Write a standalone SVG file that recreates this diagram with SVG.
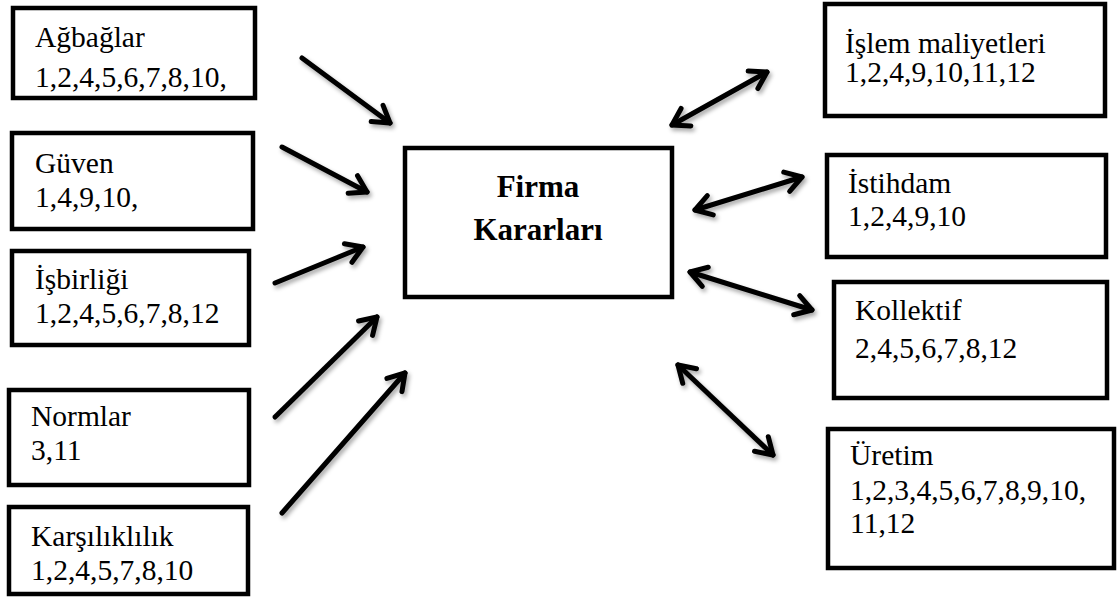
<svg xmlns="http://www.w3.org/2000/svg" width="1120" height="599" viewBox="0 0 1120 599">
<style>
.box{fill:#fff;stroke:#000;stroke-width:4.5}
.t{font-family:'Liberation Serif','Times New Roman',serif;font-size:29.5px;fill:#000}
.tb{font-family:'Liberation Serif','Times New Roman',serif;font-size:31px;font-weight:bold;fill:#000}
.c{fill:none;stroke:#000;stroke-width:5;stroke-linecap:round}
</style>
<defs>
<marker id="ah" markerUnits="userSpaceOnUse" viewBox="0 0 22 26" refX="19" refY="13" markerWidth="22" markerHeight="26" orient="auto-start-reverse">
<path d="M3,3 L19,13 L3,23" fill="none" stroke="#000" stroke-width="5" stroke-linecap="round" stroke-linejoin="round"/>
</marker>
<filter id="sh" x="-20%" y="-20%" width="140%" height="140%">
<feDropShadow dx="2" dy="3" stdDeviation="2" flood-color="#000" flood-opacity="0.35"/>
</filter>
</defs>
<rect width="1120" height="599" fill="#fff"/>
<g id="n-agbaglar"><rect class="box" x="13" y="8" width="242" height="90"/><text class="t" x="35" y="47">Ağbağlar</text><text class="t" x="35" y="87">1,2,4,5,6,7,8,10,</text></g>
<g id="n-guven"><rect class="box" x="12" y="133" width="241" height="96"/><text class="t" x="35" y="173">Güven</text><text class="t" x="35" y="207">1,4,9,10,</text></g>
<g id="n-isbirligi"><rect class="box" x="12" y="251" width="237" height="94"/><text class="t" x="35" y="289">İşbirliği</text><text class="t" x="35" y="323">1,2,4,5,6,7,8,12</text></g>
<g id="n-normlar"><rect class="box" x="9" y="390" width="240" height="95"/><text class="t" x="31" y="426">Normlar</text><text class="t" x="31" y="460">3,11</text></g>
<g id="n-karsiliklilik"><rect class="box" x="9" y="507" width="239" height="87"/><text class="t" x="31" y="546">Karşılıklılık</text><text class="t" x="31" y="580">1,2,4,5,7,8,10</text></g>
<g id="n-firma"><rect class="box" x="405" y="148" width="267" height="149"/><text class="tb" x="538" y="197" text-anchor="middle">Firma</text><text class="tb" x="538" y="240" text-anchor="middle">Kararları</text></g>
<g id="n-islem"><rect class="box" x="825" y="4" width="280" height="112"/><text class="t" x="845" y="53">İşlem maliyetleri</text><text class="t" x="845" y="82">1,2,4,9,10,11,12</text></g>
<g id="n-istihdam"><rect class="box" x="827" y="155" width="279" height="102"/><text class="t" x="848" y="193">İstihdam</text><text class="t" x="848" y="226">1,2,4,9,10</text></g>
<g id="n-kollektif"><rect class="box" x="834" y="282" width="273" height="116"/><text class="t" x="855" y="320">Kollektif</text><text class="t" x="855" y="358">2,4,5,6,7,8,12</text></g>
<g id="n-uretim"><rect class="box" x="828" y="429" width="286" height="139"/><text class="t" x="850" y="465">Üretim</text><text class="t" x="850" y="500">1,2,3,4,5,6,7,8,9,10,</text><text class="t" x="850" y="533">11,12</text></g>
<g id="connectors" filter="url(#sh)">
<line class="c" x1="302" y1="58" x2="390" y2="123" marker-end="url(#ah)"/>
<line class="c" x1="282" y1="147" x2="367" y2="192" marker-end="url(#ah)"/>
<line class="c" x1="275" y1="283" x2="363" y2="247" marker-end="url(#ah)"/>
<line class="c" x1="275" y1="417" x2="377" y2="317" marker-end="url(#ah)"/>
<line class="c" x1="282" y1="513" x2="405" y2="373" marker-end="url(#ah)"/>
<line class="c" x1="672" y1="125" x2="767" y2="72" marker-start="url(#ah)" marker-end="url(#ah)"/>
<line class="c" x1="695" y1="210" x2="802" y2="177" marker-start="url(#ah)" marker-end="url(#ah)"/>
<line class="c" x1="690" y1="272" x2="812" y2="310" marker-start="url(#ah)" marker-end="url(#ah)"/>
<line class="c" x1="678" y1="365" x2="773" y2="455" marker-start="url(#ah)" marker-end="url(#ah)"/>
</g>
</svg>
